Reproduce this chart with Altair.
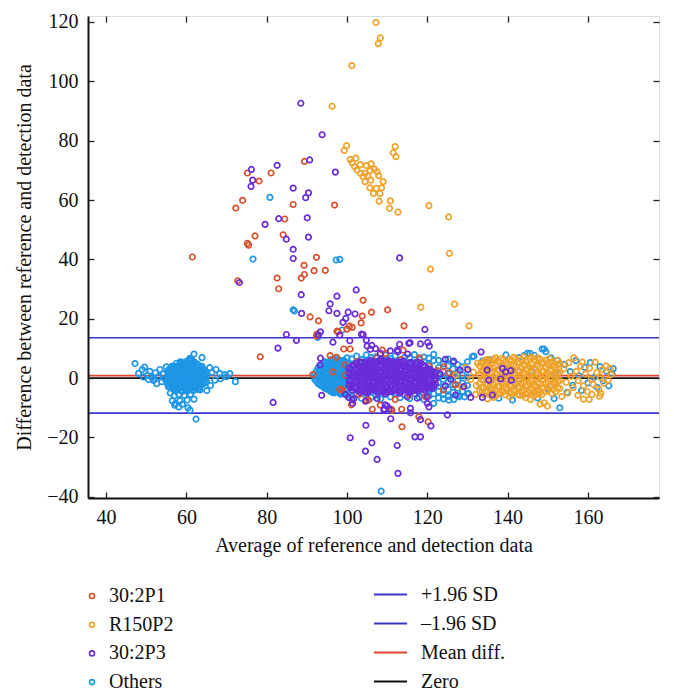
import altair as alt
import pandas as pd

FONT = "Liberation Serif"

X_DOMAIN = [35.5, 177.7]
Y_DOMAIN = [-40.4, 122.0]
X_TICKS = [40, 60, 80, 100, 120, 140, 160]
Y_TICKS = [-40, -20, 0, 20, 40, 60, 80, 100, 120]

GROUPS = ["30:2P1", "R150P2", "30:2P3", "Others"]
GROUP_COLORS = ["#D9512C", "#EFA22A", "#6A2BDA", "#1E96E6"]
DRAW_ORDER = ["Others", "R150P2", "30:2P1", "30:2P3"]

LINE_NAMES = ["+1.96 SD", "\u20131.96 SD", "Mean diff.", "Zero"]
LINE_VALUES = [13.6, -11.8, 0.8, 0.0]
LINE_COLORS = ["#3A3AC8", "#3A3AC8", "#E0452F", "#111111"]

# ---------------- 30:2P1 ----------------
p1_points = [
    (61.5, 40.8), (72.8, 32.8), (75.2, 69.1), (78.1, 66.4), (81.1, 69.1), (89.4, 73.0),
    (74.0, 59.9), (72.3, 57.3), (86.6, 58.5), (96.9, 58.3), (84.5, 53.6), (77.1, 47.9),
    (75.2, 45.4), (75.5, 44.8), (84.1, 48.3), (92.4, 40.7), (82.6, 33.7), (83.0, 30.1),
    (89.3, 38.0), (89.4, 34.9), (88.6, 33.7), (91.8, 36.2), (94.6, 36.3), (90.8, 20.6),
    (92.9, 19.3), (78.4, 7.2), (97.5, 15.8), (95.8, 7.6), (91.5, 1.2), (98.2, -3.8),
    (104.0, 26.2), (106.1, 22.2), (110.1, 23.0), (103.8, 20.9), (103.5, 18.6), (101.3, 17.1),
    (100.0, 16.5), (100.6, 17.5), (114.2, 17.6), (99.2, 9.8), (100.8, 9.8), (114.0, 9.4),
    (113.7, -16.4), (120.2, -14.7), (106.3, -10.5), (111.0, -10.5), (113.6, -10.5),
    (101.1, -9.0), (104.8, -7.5), (92.4, 14.2), (92.5, 14.8), (97.8, 15.6), (98.8, -4.0),
    (105.4, -7.4), (108.3, -9.1), (111.2, -10.8), (117.9, -13.0), (108.8, 9.4), (109.6, 8.3),
    (124.1, 3.8), (120.0, -2.7), (97.4, 7.0), (99.6, 1.0),
    (96.5, 2.1), (99.5, 4.5), (101.0, -2.5), (102.5, 5.6), (104.0, 1.5), (105.5, -3.2),
    (106.8, 3.8), (108.0, -1.0), (109.5, 5.0), (110.5, -4.5), (111.5, 2.5), (112.5, -2.0),
    (113.5, 6.2), (114.8, 0.5), (115.5, -5.5), (116.5, 3.5), (117.5, -2.8), (118.5, 1.2),
    (119.5, -6.2), (120.5, 4.0), (121.5, -1.5), (122.5, 2.5), (124.0, -4.0), (125.5, 1.8),
    (127.0, -2.2), (103.0, -5.5), (107.5, 6.8), (112.0, -7.2), (118.0, 6.8),
]

# ---------------- R150P2 ----------------
p2_points = [
    (96.3, 91.6), (107.2, 119.8), (108.3, 114.6), (107.8, 112.7), (101.2, 105.3),
    (99.9, 78.3), (99.3, 76.7), (100.8, 73.7), (102.2, 74.1), (101.3, 72.6), (101.9, 71.2),
    (103.3, 71.9), (102.5, 70.1), (103.4, 69.0), (104.0, 67.9), (104.8, 71.6), (106.0, 72.2),
    (104.5, 69.0), (105.2, 68.1), (105.8, 69.9), (106.8, 70.4), (107.5, 69.5), (107.9, 68.2),
    (104.5, 66.2), (105.9, 66.7), (109.0, 66.2), (105.7, 64.1), (107.3, 63.9), (108.6, 64.1),
    (106.6, 62.2), (108.2, 62.2), (108.0, 59.6), (110.8, 59.7), (110.6, 57.2), (112.7, 55.9),
    (112.0, 78.0), (111.5, 75.9), (112.2, 74.6), (120.4, 58.1), (125.3, 54.3), (125.5, 42.0),
    (120.8, 36.7), (126.8, 24.9), (118.4, 23.9), (130.4, 17.6),
    (143.7, -5.8), (145.7, -7.2), (147.8, -5.4), (148.1, -8.8), (149.1, -8.3), (149.9, -9.4),
    (158.9, -7.1), (160.3, -7.2), (162.9, -6.1), (163.2, -5.2), (135.0, -7.0),
    (154.0, 3.1), (154.6, -1.4), (155.2, 5.2), (155.8, 0.6), (156.3, -3.2), (156.5, 6.8),
    (157.1, 2.3), (157.6, -0.9), (158.2, 4.0), (158.6, 5.4), (158.9, -2.6), (159.4, 1.4),
    (159.9, -4.6), (160.4, 3.3), (160.8, -0.3), (161.3, -2.1), (161.8, 5.4), (162.2, 1.9),
    (162.7, -3.8), (163.1, 0.4), (163.6, 2.9), (164.0, -1.8), (164.5, 4.1), (165.0, -0.7),
    (165.5, 3.3), (165.8, 1.2), (153.5, -6.2), (155.0, -5.0), (157.5, -5.8), (161.0, -5.5),
    (131.5, 2.0), (132.2, -2.5), (132.5, 5.0), (130.8, -0.5), (129.5, 3.5), (128.5, -3.0),
    (127.0, 1.0), (132.0, -5.5), (136.5, -6.5), (140.5, -6.3), (144.5, -6.6), (150.5, 6.6),
    (152.5, 6.0), (146.5, -6.0), (141.5, 7.0),
]
p2_body = {
    133.0: [4.2, 1.1, -1.8, -4.3],
    133.5: [5.0, 2.3, -0.5, -3.2, -5.0],
    134.0: [5.5, 2.8, -0.4, -3.1, -5.6],
    134.5: [6.0, 3.3, 0.5, -2.1, -4.6],
    135.0: [6.3, 3.5, 0.7, -2.2, -4.8],
    135.5: [5.6, 2.8, -0.1, -3.0, -5.5],
    136.0: [5.1, 2.0, -0.9, -3.6],
    136.5: [6.2, 3.4, 0.6, -2.2, -5.0],
    137.0: [6.8, 4.0, 1.3, -1.5, -4.2, -6.0],
    137.5: [5.9, 2.8, 0.0, -2.8, -5.4],
    138.0: [5.4, 2.6, -0.2, -2.9, -5.1],
    138.5: [6.6, 4.0, 1.2, -1.5, -4.0],
    139.0: [6.1, 3.3, 0.5, -2.4, -4.6],
    139.5: [5.3, 2.4, -0.4, -3.3, -5.6],
    140.0: [4.6, 1.8, -1.1, -3.8],
    140.5: [6.2, 3.4, 0.6, -2.3, -4.9],
    141.0: [5.8, 3.0, 0.2, -2.7, -5.3],
    141.5: [4.5, 1.6, -1.2, -4.0],
    142.0: [6.6, 3.9, 1.0, -1.6, -4.4],
    142.5: [5.3, 2.5, -0.3, -3.0, -5.5],
    143.0: [5.0, 2.3, -0.6, -3.3, -5.8],
    143.5: [6.2, 3.4, 0.6, -2.0, -4.7],
    144.0: [7.2, 4.4, 1.5, -1.3, -4.0],
    144.5: [5.6, 2.8, 0.0, -2.7, -5.3],
    145.0: [6.0, 3.1, 0.3, -2.5, -5.0],
    145.5: [6.5, 3.8, 1.0, -1.7, -4.3],
    146.0: [7.0, 4.8, 1.9, -0.8, -3.6],
    146.5: [6.1, 3.3, 0.5, -2.2, -4.8],
    147.0: [5.7, 2.9, 0.0, -2.8, -5.4],
    147.5: [6.8, 4.3, 1.4, -1.4, -4.0],
    148.0: [6.4, 3.6, 0.9, -1.9, -4.5],
    148.5: [5.0, 2.2, -0.6, -3.3, -5.6],
    149.0: [5.2, 2.4, -0.4, -3.2],
    149.5: [6.0, 3.6, 0.8, -1.9, -4.6],
    150.0: [4.5, 1.6, -1.2, -4.1],
    150.5: [5.2, 2.5, -0.4, -2.9],
    151.0: [5.5, 2.7, -0.1, -2.6, -5.2],
    151.5: [4.3, 1.4, -1.4, -3.8],
    152.0: [3.8, 1.0, -1.7, -4.6],
    152.5: [4.6, 1.6, -1.2, -3.1],
    153.0: [4.9, 2.0, -0.8, -3.5],
}

# ---------------- 30:2P3 ----------------
p3_points = [
    (88.5, 92.6), (93.8, 82.0), (76.2, 70.3), (76.5, 66.7), (76.1, 64.6), (82.6, 71.7),
    (90.7, 73.5), (97.1, 69.4), (86.6, 64.0), (90.4, 62.4), (89.7, 60.8), (83.0, 53.7),
    (90.1, 54.0), (79.6, 51.8), (84.9, 46.8), (90.4, 47.5), (86.6, 43.4), (86.6, 40.3),
    (73.2, 32.2), (88.6, 28.1), (88.7, 21.8), (95.8, 25.0), (95.5, 22.7), (97.5, 27.6),
    (97.5, 21.8), (84.9, 14.7), (87.4, 12.7), (82.8, 10.1), (92.9, 14.5), (93.4, 15.6),
    (96.5, 12.1), (93.4, 6.7), (93.3, 4.4), (81.6, -8.2), (93.7, -5.8), (113.1, 40.5),
    (102.3, 29.7), (100.3, 22.2), (102.0, 21.6), (99.7, 20.1), (99.0, 18.8), (98.2, 14.5),
    (119.4, 16.4), (104.0, 14.7), (104.8, 12.8), (100.7, 12.6), (120.1, 12.0), (120.5, 10.8),
    (115.7, 11.9), (113.1, 11.4), (106.2, 11.0), (107.1, 9.9), (112.5, 9.4), (133.4, 8.8),
    (105.0, 10.8), (105.8, 9.7), (108.3, 8.3), (110.8, 9.2), (112.7, 8.9), (115.1, 8.1),
    (115.4, 11.7), (118.3, 11.5), (103.6, 14.8),
    (100.8, -20.1), (104.7, -15.9), (106.2, -21.8), (104.6, -24.6), (107.5, -27.4),
    (112.5, -22.7), (112.7, -32.1), (116.9, -19.8), (118.3, -19.8), (118.3, -14.0),
    (120.9, -16.1), (110.9, -13.7), (115.8, -11.7), (125.0, -12.4), (109.3, -10.4),
    (110.5, -10.4), (109.5, -9.0), (120.0, -8.5), (101.3, -7.3), (100.4, -6.5), (136.2, -5.7),
    (99.6, -5.5), (101.7, -6.9), (101.4, -8.5), (104.6, -7.8), (107.5, -6.9), (110.0, -9.4),
    (109.2, -10.8), (115.8, -10.2), (120.4, -9.7), (115.0, -6.3), (117.5, -6.8), (120.0, -6.3),
    (126.6, 5.7), (124.5, 6.3), (130.1, 2.9), (128.1, 2.7), (134.9, 2.7), (138.7, 3.3),
    (140.8, 2.5), (139.5, 2.1), (135.3, -0.7), (138.3, -0.3), (140.9, -0.7), (130.8, -6.5),
    (133.7, -6.5), (129.1, -2.9), (127.0, -5.7), (124.5, -2.6), (123.2, 1.4), (125.8, -0.4),
]
p3_body = {
    100.5: [-2.3, -0.6, 1.6, 3.3],
    100.95: [-3.2, -1.2, 0.8, 2.8],
    101.4: [-4.1, -2.0, 0.2, 2.1, 4.2],
    101.85: [-3.5, -1.5, 0.5, 2.5, 4.5],
    102.3: [-3.0, -1.3, 0.9, 2.7, 5.0],
    102.75: [-4.0, -2.0, 0.0, 2.0, 4.0],
    103.2: [-4.7, -2.5, -0.5, 1.3, 3.5, 5.5],
    103.65: [-4.2, -2.2, -0.2, 1.8, 3.8, 5.3],
    104.1: [-3.6, -1.9, 0.3, 2.3, 4.1],
    104.55: [-4.5, -2.5, -0.5, 1.5, 3.5, 5.2],
    105.0: [-5.1, -3.1, -0.9, 1.1, 2.9, 4.9],
    105.45: [-4.6, -2.6, -0.6, 1.4, 3.4, 5.4],
    105.9: [-4.0, -2.3, -0.1, 1.9, 3.7, 6.0],
    106.35: [-3.9, -1.9, 0.1, 2.1, 4.1, 5.6],
    106.8: [-3.5, -1.3, 0.7, 2.5, 4.7],
    107.25: [-4.3, -2.3, -0.3, 1.7, 3.7, 5.5],
    107.7: [-4.9, -2.7, -0.7, 1.3, 3.1, 5.3],
    108.15: [-4.2, -2.2, -0.2, 1.8, 3.8, 5.8],
    108.6: [-3.7, -1.5, 0.5, 2.3, 4.5, 6.3],
    109.05: [-4.6, -2.6, -0.6, 1.4, 3.4, 5.6],
    109.5: [-5.3, -3.1, -1.1, 0.9, 2.9, 4.7],
    109.95: [-4.8, -2.8, -0.8, 1.2, 3.2, 5.2],
    110.4: [-4.1, -1.9, 0.1, 2.1, 3.9, 5.9],
    110.85: [-4.4, -2.4, -0.4, 1.6, 3.6, 5.6],
    111.3: [-4.5, -2.5, -0.7, 1.5, 3.3, 5.5],
    111.75: [-4.0, -2.0, 0.0, 2.0, 4.0],
    112.2: [-3.3, -1.5, 0.7, 2.5, 4.7],
    112.65: [-4.3, -2.3, -0.3, 1.7, 3.7, 5.5],
    113.1: [-5.1, -2.9, -1.1, 1.1, 2.9, 5.1],
    113.55: [-4.6, -2.6, -0.6, 1.4, 3.4, 5.4],
    114.0: [-4.1, -2.3, -0.1, 1.7, 3.9, 5.7],
    114.45: [-3.9, -1.9, 0.1, 2.1, 4.1],
    114.9: [-3.7, -1.5, 0.5, 2.5, 4.3],
    115.35: [-4.3, -2.3, -0.3, 1.7, 3.7, 4.9],
    115.8: [-4.7, -2.9, -0.7, 1.3, 3.1, 5.3],
    116.25: [-4.4, -2.4, -0.4, 1.6, 3.6],
    116.7: [-3.9, -1.7, 0.3, 2.1, 4.3],
    117.15: [-4.0, -2.0, 0.0, 2.0, 4.0, 5.0],
    117.6: [-4.3, -2.5, -0.3, 1.7, 3.5, 5.5],
    118.05: [-3.7, -1.7, 0.3, 2.3, 4.3],
    118.5: [-3.1, -1.3, 0.9, 2.7, 4.9],
    118.95: [-3.6, -1.6, 0.4, 2.4, 4.4],
    119.4: [-4.1, -1.9, 0.1, 2.1, 3.9],
    119.85: [-3.4, -1.4, 0.6, 2.6],
    120.3: [-2.7, -0.9, 1.3, 3.1],
    120.75: [-3.1, -1.1, 0.9, 2.9],
    121.2: [-3.5, -1.7, 0.5, 2.3],
    121.65: [-2.8, -0.8, 1.2],
    122.1: [-2.1, -0.3, 1.9],
}

# ---------------- Others ----------------
others_points = [
    (80.8, 60.9), (76.6, 40.1), (97.3, 39.8), (98.2, 40.0), (86.6, 23.0), (86.9, 22.6),
    (108.5, -38.1), (153.0, -10.0), (131.2, 7.2), (145.6, 8.3), (144.1, 7.6), (149.1, 9.8),
    (149.5, 8.9), (131.6, 7.4), (133.7, 5.7), (144.9, 8.3), (146.6, 7.7), (148.6, 9.8),
    (126.6, -7.2), (128.0, -6.3), (121.6, -8.5), (124.0, -7.0), (125.4, -7.4), (129.3, -6.3),
    (130.3, -5.2), (92.7, 13.7), (98.8, 16.2),
    (47.2, 4.9), (48.1, 1.6), (49.0, 2.9), (49.6, 3.7), (50.3, 0.9), (50.9, 2.3), (51.4, 0.3),
    (51.8, -0.8), (52.3, 1.8), (52.6, -1.9), (53.1, 0.5), (53.4, 2.9), (53.9, -1.2), (54.3, 1.4),
    (54.6, -0.3), (55.0, 3.8), (52.0, -0.2), (50.6, -0.5), (49.3, 0.4),
    (61.9, 8.1), (63.9, 6.9), (60.8, 6.6), (58.6, 5.3), (61.2, 6.5), (58.5, 5.5),
    (66.4, 1.9), (67.4, 2.9), (67.1, -0.7), (68.3, 1.6), (69.6, 1.2), (70.8, 1.5), (72.2, -1.2),
    (66.0, -2.5), (65.1, -4.2), (63.4, -4.0), (65.8, 3.5), (68.5, -0.2), (70.0, 0.5),
    (56.5, -7.6), (57.3, -8.5), (58.4, -7.6), (59.0, -8.8), (60.2, -7.4), (61.9, -7.1),
    (60.4, -10.0), (60.9, -10.8), (58.1, -9.7), (57.1, -9.1), (62.4, -13.8), (55.5, -2.9),
    (57.8, -4.0), (58.1, -5.5), (57.0, -6.0), (59.5, -5.8), (61.0, -5.5), (63.0, -3.8),
    (56.0, -5.0),
    (135.5, 6.2), (137.8, -6.8), (139.6, 7.8), (141.2, -7.4), (142.8, 6.9), (150.8, 6.8),
    (151.6, -6.9), (152.4, 5.9), (154.2, 4.6), (154.8, -4.8), (155.6, 2.2), (156.2, -2.4),
    (157.0, 5.9), (157.8, 0.8), (158.4, -4.2), (159.2, 3.6), (160.0, -1.6), (160.6, 5.2),
    (161.5, 0.2), (162.3, -3.1), (163.0, 3.9), (163.8, -0.9), (164.6, 2.3), (165.2, -2.6),
    (166.0, 1.4), (166.3, 3.2), (138.5, 1.0), (142.0, -2.0), (146.0, 2.5), (150.0, -3.5),
    (136.0, -3.8), (147.5, -6.7), (152.0, 1.5),
]
others_body = {
    55.3: [-2.0, -0.6, 0.8, 2.2],
    55.65: [-2.8, -1.3, 0.2, 1.5, 2.9],
    56.0: [-3.1, -1.5, 0.1, 1.6, 3.2],
    56.4: [-3.4, -1.9, -0.4, 1.2, 2.8, 4.0],
    56.8: [-3.8, -2.2, -0.7, 0.9, 2.5, 4.0],
    57.15: [-4.0, -2.4, -0.9, 0.7, 2.3, 3.9],
    57.5: [-4.2, -2.6, -1.0, 0.5, 2.0, 3.6, 5.0],
    57.9: [-3.8, -2.2, -0.6, 1.0, 2.6, 4.2],
    58.3: [-3.5, -1.9, -0.3, 1.3, 2.9, 4.4],
    58.65: [-4.1, -2.5, -0.9, 0.6, 2.2, 3.8, 5.0],
    59.0: [-4.5, -2.9, -1.3, 0.2, 1.8, 3.4, 4.9],
    59.4: [-3.4, -1.8, -0.2, 1.4, 3.0, 4.6],
    59.8: [-3.8, -2.2, -0.6, 1.0, 2.6, 4.1, 5.6],
    60.15: [-4.3, -2.7, -1.1, 0.4, 2.0, 3.6, 5.2],
    60.5: [-4.1, -2.5, -0.9, 0.6, 2.2, 3.8, 5.3],
    60.9: [-3.7, -2.1, -0.5, 1.1, 2.7, 4.2, 5.8],
    61.3: [-3.4, -1.8, -0.2, 1.4, 3.0, 4.5, 6.2],
    61.65: [-4.2, -2.6, -1.0, 0.6, 2.2, 3.7, 5.2],
    62.0: [-4.0, -2.4, -0.8, 0.8, 2.4, 3.9, 5.4],
    62.4: [-3.6, -2.0, -0.4, 1.2, 2.8, 4.4],
    62.8: [-3.2, -1.6, 0.0, 1.6, 3.2, 4.7],
    63.15: [-2.9, -1.3, 0.3, 1.9, 3.5],
    63.5: [-2.6, -1.0, 0.6, 2.2, 3.8],
    63.9: [-2.2, -0.6, 1.0, 2.6, 4.0],
    64.3: [-1.9, -0.3, 1.3, 2.9],
    64.65: [-1.5, 0.1, 1.7],
    65.0: [-1.2, 0.4, 2.0],
    92.0: [-0.5, 1.2],
    92.4: [-1.0, 0.6, 2.4],
    92.8: [-1.8, 0.0, 1.8, 3.5],
    93.2: [-2.2, -0.4, 1.4, 3.0],
    93.6: [-2.5, -0.8, 1.0, 2.8, 4.5],
    94.0: [-2.9, -1.1, 0.7, 2.5, 4.2],
    94.4: [-3.3, -1.5, 0.3, 2.1, 3.9, 5.6],
    94.8: [-3.6, -1.8, 0.0, 1.8, 3.6, 5.2],
    95.2: [-3.8, -2.0, -0.2, 1.6, 3.4, 5.0],
    95.6: [-4.1, -2.3, -0.5, 1.3, 3.1, 4.8],
    96.0: [-4.5, -2.7, -0.9, 0.9, 2.7, 4.5, 6.2],
    96.4: [-4.8, -3.0, -1.2, 0.6, 2.4, 4.2, 5.9],
    96.8: [-5.0, -3.2, -1.4, 0.4, 2.2, 4.0, 5.7],
    97.2: [-4.6, -2.8, -1.0, 0.8, 2.6, 4.4, 6.1],
    97.6: [-4.2, -2.4, -0.6, 1.2, 3.0, 4.8, 6.6],
    98.0: [-4.8, -3.0, -1.2, 0.6, 2.4, 4.2, 6.0],
    98.4: [-5.4, -3.6, -1.8, 0.0, 1.8, 3.6, 5.4],
    98.8: [-5.1, -3.3, -1.5, 0.3, 2.1, 3.9, 5.7],
    99.2: [-4.8, -3.0, -1.2, 0.6, 2.4, 4.2, 6.0],
    99.6: [-5.3, -3.5, -1.7, 0.1, 1.9, 3.7, 5.5],
    100.0: [-5.8, -4.0, -2.2, -0.4, 1.4, 3.2, 5.0, 6.8],
    101.2: [-6.2, -4.1, 0.5, 4.6, 6.5],
    102.4: [-5.6, -3.4, -0.8, 5.3, 7.4],
    103.6: [-6.8, -4.4, 1.1, 4.9, 6.2],
    104.8: [-5.1, -2.9, 0.2, 5.8, 7.8],
    106.0: [-6.5, -4.0, 1.5, 4.4, 6.9],
    107.2: [-5.8, -3.3, -0.5, 5.6, 7.2],
    108.4: [-7.0, -4.6, 0.8, 4.7, 6.4],
    109.6: [-5.4, -2.7, 1.9, 5.9, 7.7],
    110.8: [-6.3, -4.2, -0.2, 4.3, 6.6],
    112.0: [-5.0, -3.0, 1.2, 5.4, 7.5],
    113.2: [-6.6, -4.4, 0.4, 4.8, 6.1],
    114.4: [-5.7, -3.6, -1.0, 5.7, 7.0],
    115.6: [-6.9, -4.8, 1.6, 4.5, 6.8],
    116.8: [-5.2, -3.1, 0.0, 5.2, 7.9],
    118.0: [-6.4, -4.3, 1.3, 4.0, 6.3],
    119.2: [-7.3, -5.0, -0.7, 5.5, 7.1],
    120.4: [-6.0, -3.8, 0.9, 4.6, 6.7],
    121.6: [-5.3, -2.6, 2.0, 5.9, 8.0],
    122.8: [-6.7, -4.5, -1.5, 1.0, 3.5, 6.0],
    124.0: [-5.5, -3.0, -0.4, 2.3, 4.8],
    125.2: [-6.2, -3.9, -1.2, 1.5, 4.1, 6.4],
    126.4: [-4.8, -2.2, 0.6, 3.1, 5.3],
    127.6: [-5.9, -3.4, -0.8, 1.9, 4.5],
    128.8: [-4.4, -1.7, 1.0, 3.8],
    130.0: [-5.2, -2.5, 0.3, 2.9, 5.5],
}


def rows(group, points, body):
    out = [{"avg": x, "diff": y, "group": group} for x, y in points]
    for x, ys in body.items():
        out += [{"avg": x, "diff": y, "group": group} for y in ys]
    return out


all_rows = {
    "30:2P1": rows("30:2P1", p1_points, {}),
    "R150P2": rows("R150P2", p2_points, p2_body),
    "30:2P3": rows("30:2P3", p3_points, p3_body),
    "Others": rows("Others", others_points, others_body),
}
points_df = pd.DataFrame([r for g in DRAW_ORDER for r in all_rows[g]])
lines_df = pd.DataFrame({"name": LINE_NAMES, "value": LINE_VALUES})
anchor_df = pd.DataFrame({"avg": [100.0], "diff": [0.0]})

xscale = alt.Scale(domain=X_DOMAIN, nice=False, zero=False)
yscale = alt.Scale(domain=Y_DOMAIN, nice=False, zero=False)

label_style = dict(labelFont=FONT, labelFontSize=20, labelColor="#111111", grid=False, zindex=1)
tick_style = dict(labels=False, domain=False, ticks=True, tickSize=6, tickWidth=1.3,
                  tickColor="#222222", grid=False, offset=-6, title=None, zindex=1)

rules = alt.Chart(lines_df).mark_rule(strokeWidth=1.7).encode(
    y=alt.Y("value:Q", scale=yscale, axis=None),
    stroke=alt.Stroke(
        "name:N",
        scale=alt.Scale(domain=LINE_NAMES, range=LINE_COLORS),
        legend=alt.Legend(
            orient="none", legendX=285, legendY=561, title=None, symbolType="stroke",
            symbolSize=1100, symbolStrokeWidth=1.8, labelFont=FONT, labelFontSize=20,
            labelColor="#111111", labelOffset=13, rowPadding=1, padding=0,
        ),
    ),
)

points = alt.Chart(points_df).mark_point(
    filled=False, size=30, strokeWidth=1.7, opacity=1
).encode(
    x=alt.X("avg:Q", scale=xscale, axis=alt.Axis(
        orient="bottom", values=X_TICKS, ticks=False, tickSize=0, domain=True,
        domainColor="#111111", domainWidth=2, labelPadding=9,
        title="Average of reference and detection data", titleFont=FONT, titleFontSize=20,
        titleFontWeight="normal", titleColor="#111111", titlePadding=8, **label_style)),
    y=alt.Y("diff:Q", scale=yscale, axis=alt.Axis(
        orient="left", values=Y_TICKS, ticks=False, tickSize=0, domain=True,
        domainColor="#111111", domainWidth=2, labelPadding=10,
        title="Difference between reference and detection data", titleFont=FONT,
        titleFontSize=20, titleFontWeight="normal", titleColor="#111111", titlePadding=12,
        **label_style)),
    color=alt.Color(
        "group:N",
        scale=alt.Scale(domain=GROUPS, range=GROUP_COLORS),
        legend=alt.Legend(
            orient="none", legendX=-6, legendY=570, title=None, symbolType="circle",
            symbolSize=25, symbolStrokeWidth=1.6, labelFont=FONT, labelFontSize=20,
            labelColor="#111111", labelOffset=7, rowPadding=8.7, padding=0,
        ),
    ),
    order=alt.value(0),
)

ticks_bl = alt.Chart(anchor_df).mark_point(opacity=0).encode(
    x=alt.X("avg:Q", scale=xscale, axis=alt.Axis(orient="bottom", values=X_TICKS, **tick_style)),
    y=alt.Y("diff:Q", scale=yscale, axis=alt.Axis(orient="left", values=Y_TICKS, **tick_style)),
)
ticks_tr = alt.Chart(anchor_df).mark_point(opacity=0).encode(
    x=alt.X("avg:Q", scale=xscale, axis=alt.Axis(orient="top", values=X_TICKS, **tick_style)),
    y=alt.Y("diff:Q", scale=yscale, axis=alt.Axis(orient="right", values=Y_TICKS, **tick_style)),
)

chart = alt.layer(rules, points, ticks_bl, ticks_tr).resolve_axis(
    x="independent", y="independent"
).properties(
    width=571, height=482,
    autosize=alt.AutoSizeParams(type="none"),
    padding={"left": 80, "top": 8, "right": 7, "bottom": 196},
).configure_view(
    stroke="#444444", strokeWidth=1.2
).configure(font=FONT)

chart.save("out.html", embed_options={"renderer": "svg", "actions": False})
